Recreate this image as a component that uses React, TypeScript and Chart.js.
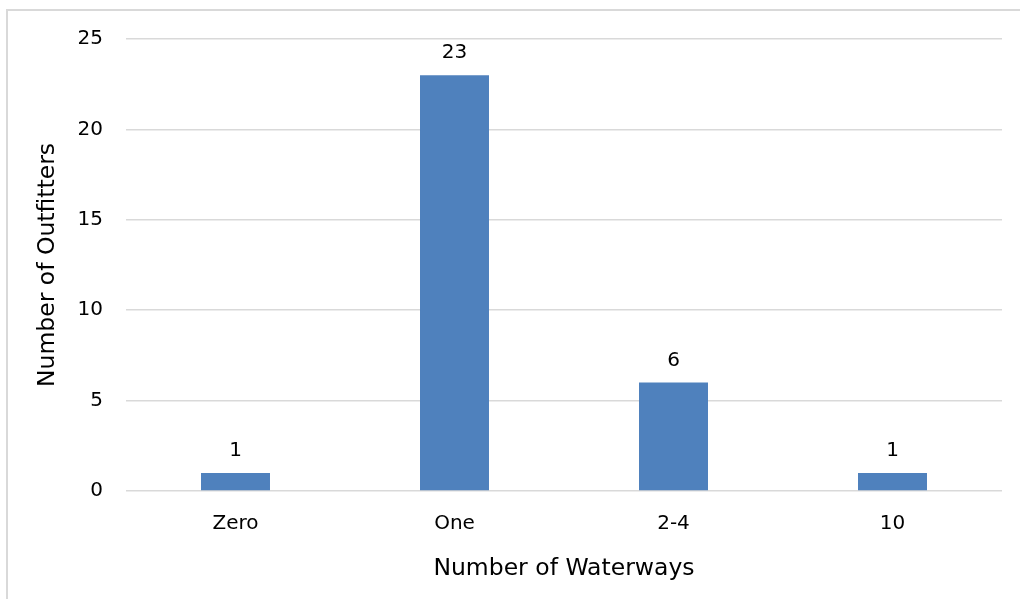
import React, { useEffect, useRef } from "react";
import { Chart, registerables } from "chart.js";

Chart.register(...registerables);

const categories = ["Zero", "One", "2-4", "10"];
const outfitters = [1, 23, 6, 1];
const yTicks = [0, 5, 10, 15, 20, 25];
const xTitle = "Number of Waterways";
const yTitle = "Number of Outfitters";

const FONT = "'DejaVu Sans', sans-serif";

const valueLabels = {
  id: "valueLabels",
  afterDatasetsDraw(chart: any) {
    const ctx = chart.ctx;
    const meta = chart.getDatasetMeta(0);
    ctx.save();
    ctx.font = `20px ${FONT}`;
    ctx.fillStyle = "#000";
    ctx.textAlign = "center";
    ctx.textBaseline = "alphabetic";
    meta.data.forEach((bar: any, i: number) => {
      ctx.fillText(String(chart.data.datasets[0].data[i]), bar.x, bar.y - 17);
    });
    ctx.restore();
  },
};

export default function App() {
  const ref = useRef<HTMLCanvasElement>(null);
  useEffect(() => {
    if (!ref.current) return;
    const chart = new Chart(ref.current, {
      type: "bar",
      data: {
        labels: categories,
        datasets: [
          {
            data: outfitters,
            backgroundColor: "#4F81BD",
            barPercentage: 0.315,
            categoryPercentage: 1,
          },
        ],
      },
      plugins: [valueLabels],
      options: {
        animation: false,
        responsive: false,
        maintainAspectRatio: false,
        layout: { padding: { top: 39, right: 18, bottom: 0, left: 0 } },
        plugins: { legend: { display: false }, tooltip: { enabled: false } },
        scales: {
          x: {
            grid: { display: false, drawTicks: false },
            border: { display: false },
            ticks: { padding: 21, color: "#000", font: { family: FONT, size: 20 } },
            title: {
              display: true,
              text: xTitle,
              color: "#000",
              font: { family: FONT, size: 23.5 },
              padding: { top: 0, bottom: 16 },
            },
            afterFit(scale: any) {
              scale.height = 108;
            },
          },
          y: {
            min: 0,
            max: 25,
            afterBuildTicks(scale: any) {
              scale.ticks = yTicks.map((v) => ({ value: v }));
            },
            grid: { color: "#d9d9d9", lineWidth: 1.5, drawTicks: false },
            border: { display: false },
            ticks: { padding: 23, color: "#000", font: { family: FONT, size: 20 } },
            title: {
              display: true,
              text: yTitle,
              color: "#000",
              font: { family: FONT, size: 23.5 },
              padding: { top: 34, bottom: 0 },
            },
            afterFit(scale: any) {
              scale.width = 126;
            },
          },
        },
      },
    });
    return () => chart.destroy();
  }, []);

  return (
    <div
      style={{
        position: "fixed",
        left: 0,
        top: 0,
        width: 1020,
        height: 599,
        overflow: "hidden",
        background: "#fff",
      }}
    >
      <div
        style={{
          position: "absolute",
          left: 6,
          top: 9,
          width: 1100,
          height: 700,
          border: "2px solid #d9d9d9",
        }}
      />
      <canvas
        ref={ref}
        width={1020}
        height={599}
        style={{ position: "absolute", left: 0, top: 0, width: 1020, height: 599 }}
      />
    </div>
  );
}
